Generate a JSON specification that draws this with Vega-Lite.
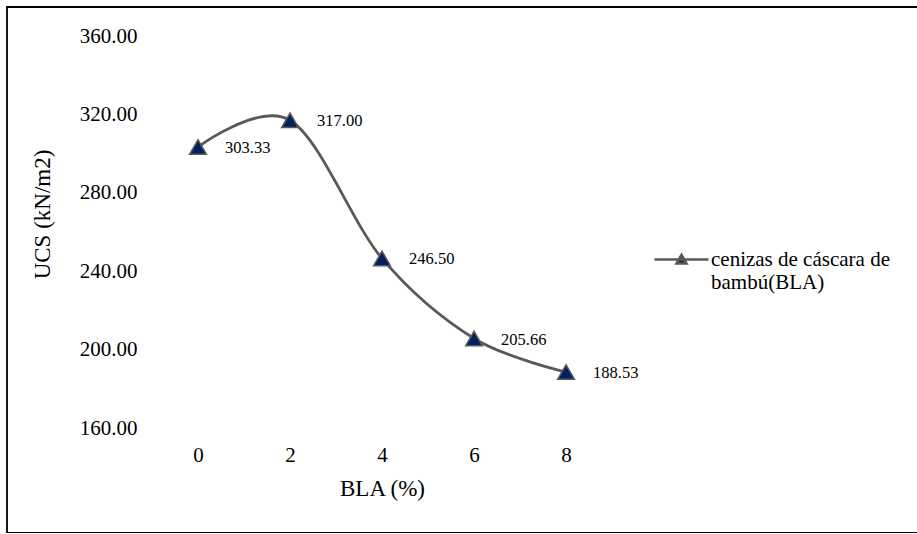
{
  "$schema": "https://vega.github.io/schema/vega-lite/v6.json",
  "width": 916,
  "height": 526,
  "autosize": {"type": "none"},
  "padding": {"left": 7, "top": 7, "right": 0, "bottom": 0},
  "background": "white",
  "config": {
    "view": {"stroke": "#000000", "strokeWidth": 1.8},
    "font": "Times New Roman, Liberation Serif, serif",
    "axis": {"labelFont": "Times New Roman, Liberation Serif, serif", "titleFont": "Times New Roman, Liberation Serif, serif"},
    "legend": {"labelFont": "Times New Roman, Liberation Serif, serif"},
    "text": {"font": "Times New Roman, Liberation Serif, serif"}
  },
  "data": {
    "values": [
      {"BLA": 0, "UCS": 303.33, "serie": "cenizas de cáscara de bambú(BLA)"},
      {"BLA": 2, "UCS": 317.00, "serie": "cenizas de cáscara de bambú(BLA)"},
      {"BLA": 4, "UCS": 246.50, "serie": "cenizas de cáscara de bambú(BLA)"},
      {"BLA": 6, "UCS": 205.66, "serie": "cenizas de cáscara de bambú(BLA)"},
      {"BLA": 8, "UCS": 188.53, "serie": "cenizas de cáscara de bambú(BLA)"}
    ]
  },
  "layer": [
    {
      "mark": {"type": "line", "interpolate": "cardinal", "strokeWidth": 2.8},
      "encoding": {
        "x": {
          "field": "BLA", "type": "quantitative",
          "scale": {"domain": [-4.152, 15.76], "nice": false, "zero": false},
          "axis": {
            "orient": "bottom", "offset": -78, "values": [0, 2, 4, 6, 8], "format": "d",
            "domain": false, "ticks": false, "tickSize": 0, "grid": false,
            "labelPadding": 0, "labelBaseline": "middle", "labelFontSize": 21,
            "labelColor": "#000000", "labelFlush": false,
            "title": "BLA (%)", "titleFontSize": 23, "titleFontWeight": "normal",
            "titleColor": "#000000",
            "titleX": 375, "titleY": 33, "titleBaseline": "middle", "titleAlign": "center"
          }
        },
        "y": {
          "field": "UCS", "type": "quantitative",
          "scale": {"domain": [106.43, 374.8], "nice": false, "zero": false},
          "axis": {
            "orient": "left", "offset": -132, "values": [160, 200, 240, 280, 320, 360], "format": ".2f",
            "domain": false, "ticks": false, "tickSize": 0, "grid": false,
            "labelPadding": 2, "labelFontSize": 21,
            "labelColor": "#000000", "labelFlush": false,
            "title": "UCS (kN/m2)", "titleFontSize": 23, "titleFontWeight": "normal",
            "titleColor": "#000000",
            "titleX": -97, "titleY": 207, "titleAngle": -90,
            "titleAlign": "center", "titleBaseline": "middle"
          }
        },
        "stroke": {
          "field": "serie", "type": "nominal",
          "scale": {"range": ["#595959"]},
          "legend": {
            "orient": "none", "legendX": 646, "legendY": 224, "title": null, "padding": 0,
            "symbolType": "M-1,0H1M0,-0.17L-0.185,0.15L0.185,0.15Z",
            "symbolSize": 2916, "symbolStrokeWidth": 2.6,
            "symbolFillColor": "#002060", "symbolStrokeColor": "#595959",
            "labelFontSize": 21, "labelColor": "#000000",
            "labelOffset": 1, "labelLimit": 400, "labelBaseline": "middle",
            "labelExpr": "['cenizas de cáscara de', 'bambú(BLA)']"
          }
        }
      }
    },
    {
      "mark": {
        "type": "point", "shape": "triangle-up", "filled": true,
        "fill": "#002060", "stroke": "#595959", "strokeWidth": 1.5,
        "size": 280, "opacity": 1
      },
      "encoding": {
        "x": {"field": "BLA", "type": "quantitative"},
        "y": {"field": "UCS", "type": "quantitative"}
      }
    },
    {
      "mark": {
        "type": "text", "align": "left", "baseline": "middle", "dx": 27, "dy": 1,
        "fontSize": 16.5, "color": "#000000"
      },
      "encoding": {
        "x": {"field": "BLA", "type": "quantitative"},
        "y": {"field": "UCS", "type": "quantitative"},
        "text": {"field": "UCS", "type": "quantitative", "format": ".2f"}
      }
    }
  ]
}
